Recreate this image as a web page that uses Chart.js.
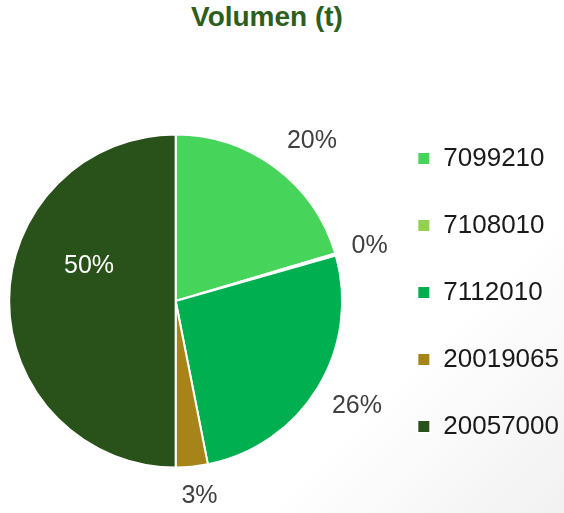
<!DOCTYPE html>
<html>
<head>
<meta charset="utf-8">
<title>Volumen (t)</title>
<script src="https://cdn.jsdelivr.net/npm/chart.js@4.4.1/dist/chart.umd.min.js"></script>
<style>
    html, body {
        margin: 0;
        padding: 0;
        width: 564px;
        height: 513px;
        overflow: hidden;
        background: linear-gradient(135deg, #ffffff 72%, #f1f1f1 100%);
        position: relative;
    }
    #titulo {
        position: absolute;
        left: 267px;
        top: 3px;
        transform: translateX(-50%);
        white-space: nowrap;
        font: bold 28px "Liberation Sans", Arial, sans-serif;
        line-height: 28px;
        color: #2E5E1E;
    }
    #contenedor {
        position: absolute;
        left: -30px;
        top: 0;
        width: 599px;
        height: 513px;
    }
</style>
</head>
<body>
<div id="titulo">Volumen (t)</div>
<div id="contenedor"><canvas id="graficoVolumen"></canvas></div>
<script>
// Datos del gráfico
const categorias = ['7099210', '7108010', '7112010', '20019065', '20057000'];
const volumen = [20.4, 0.2, 26.3, 3.1, 50.0];
const colores = ['#47D45A', '#92D050', '#00B050', '#A6841A', '#29521A'];

// Ajustes de las etiquetas de porcentaje (distancia y giro respecto al centro del sector)
const radioEtiqueta = [1.26, 1.21, 1.26, 1.18, 0.56];
const giroEtiqueta = [3.8, 0.5, -1.3, -1.4, 21.7];
const colorEtiqueta = ['#404040', '#404040', '#404040', '#404040', '#ffffff'];

// Plugin propio para dibujar los porcentajes
const etiquetasPorcentaje = {
    id: 'etiquetasPorcentaje',
    afterDatasetsDraw(chart) {
        const ctx = chart.ctx;
        const meta = chart.getDatasetMeta(0);
        const total = volumen.reduce((a, b) => a + b, 0);
        ctx.save();
        ctx.font = '25px "Liberation Sans", Arial, sans-serif';
        ctx.textAlign = 'center';
        ctx.textBaseline = 'middle';
        meta.data.forEach((arco, i) => {
            const p = arco.getProps(['x', 'y', 'startAngle', 'endAngle', 'outerRadius'], true);
            const medio = (p.startAngle + p.endAngle) / 2 + giroEtiqueta[i] * Math.PI / 180;
            const r = p.outerRadius * radioEtiqueta[i];
            const texto = Math.round(volumen[i] / total * 100) + '%';
            ctx.fillStyle = colorEtiqueta[i];
            ctx.fillText(texto, p.x + Math.cos(medio) * r, p.y + Math.sin(medio) * r);
        });
        ctx.restore();
    }
};

const ctx = document.getElementById('graficoVolumen').getContext('2d');
new Chart(ctx, {
    type: 'pie',
    data: {
        labels: categorias,
        datasets: [{
            data: volumen,
            backgroundColor: colores,
            borderColor: '#ffffff',
            borderWidth: 2
        }]
    },
    options: {
        responsive: true,
        maintainAspectRatio: false,
        animation: false,
        layout: {
            padding: { top: 0, left: 5, right: 0, bottom: 32.5 }
        },
        plugins: {
            // título vacío: solo reserva el espacio superior (el texto va en el div)
            title: {
                display: true,
                text: '',
                font: { size: 10, lineHeight: 1 },
                padding: { top: 0, bottom: 123.5 }
            },
            subtitle: {
                display: true,
                position: 'bottom',
                text: '',
                font: { size: 12, lineHeight: 1 },
                padding: 0
            },
            legend: {
                position: 'right',
                align: 'end',
                labels: {
                    boxWidth: 13,
                    boxHeight: 13,
                    padding: 41,
                    color: '#1a1a1a',
                    font: { size: 26, family: '"Liberation Sans", Arial, sans-serif' }
                }
            },
            tooltip: { enabled: false }
        }
    },
    plugins: [etiquetasPorcentaje]
});
</script>
</body>
</html>
